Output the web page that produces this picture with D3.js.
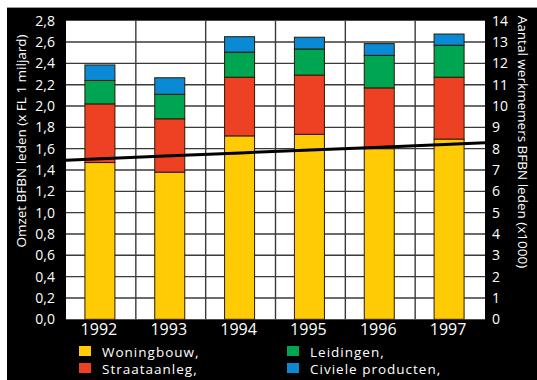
<!DOCTYPE html>
<html><head><meta charset="utf-8">
<script src="https://cdn.jsdelivr.net/npm/d3@7"></script>
<style>body{margin:0;background:#fff}svg{display:block}</style>
</head><body><svg id="c" width="537" height="380"></svg>
<script>
const years = ["1992", "1993", "1994", "1995", "1996", "1997"];
const woningbouw = [1.47, 1.38, 1.72, 1.735, 1.60, 1.69];
const straataanleg = [0.55, 0.50, 0.55, 0.555, 0.57, 0.58];
const leidingen = [0.22, 0.23, 0.235, 0.245, 0.305, 0.30];
const civiele = [0.145, 0.155, 0.145, 0.11, 0.11, 0.105];
const werknemers = [7.53, 7.67, 7.80, 7.94, 8.07, 8.21];
const leftTicks = [0, 0.2, 0.4, 0.6, 0.8, 1.0, 1.2, 1.4, 1.6, 1.8, 2.0, 2.2, 2.4, 2.6, 2.8];
const rightTicks = [0, 1, 2, 3, 4, 5, 6, 7, 8, 9, 10, 11, 12, 13, 14];
const seriesNames = ["Woningbouw,", "Straataanleg,", "Leidingen,", "Civiele producten,"];
const seriesColors = ["#FFCB05", "#EE4124", "#00A551", "#0A8AD5"];
const leftTitle = "Omzet BFBN leden (x FL 1 miljard)";
const rightTitle = "Aantal werkmemers BFBN leden (x1000)";

const FONT = "'Open Sans', 'Noto Sans', sans-serif";
const svg = d3.select("#c");
const L = 66, R = 485, T = 20.7, B = 319.3;

svg.append("rect").attr("x", 7).attr("y", 8).attr("width", 530).attr("height", 372).attr("fill", "#000");
svg.append("line").attr("x1", 7).attr("x2", 537).attr("y1", 7.5).attr("y2", 7.5).attr("stroke", "#999").attr("stroke-width", 1);
svg.append("rect").attr("x", L).attr("y", T).attr("width", R - L).attr("height", B - T).attr("fill", "#fff");

const x = d3.scaleBand().domain(years).range([L, R]).padding(0);
const y = d3.scaleLinear().domain([0, 2.8]).range([B, T]);
const y2 = d3.scaleLinear().domain([0, 14]).range([B, T]);

// grid
const gGrid = svg.append("g");
gGrid.selectAll("line.h").data(leftTicks.slice(1, -1)).join("line")
  .attr("x1", L).attr("x2", R).attr("y1", d => y(d)).attr("y2", d => y(d))
  .attr("stroke", "#3a3a3a").attr("stroke-width", 1.4);
gGrid.selectAll("line.v").data(years.slice(1)).join("line")
  .attr("x1", d => x(d)).attr("x2", d => x(d)).attr("y1", T).attr("y2", B)
  .attr("stroke", "#3a3a3a").attr("stroke-width", 1.4);

// stacked bars
const rows = years.map((yr, i) => ({year: yr, s0: woningbouw[i], s1: straataanleg[i], s2: leidingen[i], s3: civiele[i]}));
const stack = d3.stack().keys(["s0", "s1", "s2", "s3"])(rows);
const bw = 30;
svg.append("g").selectAll("g").data(stack).join("g")
  .attr("fill", (d, i) => seriesColors[i])
  .selectAll("rect").data(d => d).join("rect")
  .attr("x", d => x(d.data.year) + x.bandwidth() / 2 - bw / 2 - 1)
  .attr("width", bw)
  .attr("y", d => y(d[1]))
  .attr("height", d => y(d[0]) - y(d[1]))
  .attr("stroke", "#2a1a00").attr("stroke-width", 1);

// employee line, extended to the plot edges
const pts = years.map((yr, i) => [x(yr) + x.bandwidth() / 2, y2(werknemers[i])]);
const n = pts.length;
const s0 = (pts[1][1] - pts[0][1]) / (pts[1][0] - pts[0][0]);
const s1 = (pts[n - 1][1] - pts[n - 2][1]) / (pts[n - 1][0] - pts[n - 2][0]);
const full = [[L, pts[0][1] + s0 * (L - pts[0][0])], ...pts, [R, pts[n - 1][1] + s1 * (R - pts[n - 1][0])]];
svg.append("path").attr("d", d3.line()(full)).attr("fill", "none").attr("stroke", "#000").attr("stroke-width", 3);

// axes
const fmt = d => d3.format(".1f")(d).replace(".", ",");
const ax = svg.append("g").attr("transform", `translate(${L},0)`)
  .call(d3.axisLeft(y).tickValues(leftTicks).tickSize(0).tickPadding(11).tickFormat(fmt));
const ax2 = svg.append("g").attr("transform", `translate(${R},0)`)
  .call(d3.axisRight(y2).tickValues(rightTicks).tickSize(0).tickPadding(7).tickFormat(d3.format("d")));
const axX = svg.append("g").attr("transform", `translate(-2,${B})`)
  .call(d3.axisBottom(x).tickSize(0).tickPadding(4));
[ax, ax2, axX].forEach(g => {
  g.select(".domain").remove();
  g.selectAll("text").attr("fill", "#fff").attr("font-family", FONT);
});
ax.selectAll("text").attr("font-size", 14);
ax2.selectAll("text").attr("font-size", 14);
axX.selectAll("text").attr("font-size", 16);

// axis titles
svg.append("text").attr("transform", "translate(26,141) rotate(-90)")
  .attr("text-anchor", "middle").attr("fill", "#fff").attr("font-family", FONT).attr("font-size", 13.5)
  .text(leftTitle);
svg.append("text").attr("transform", "translate(518,142) rotate(90)")
  .attr("text-anchor", "middle").attr("fill", "#fff").attr("font-family", FONT).attr("font-size", 13.5)
  .text(rightTitle);

// legend
const legPos = [[79, 346], [79, 363], [287, 346], [287, 363]];
const leg = svg.append("g").selectAll("g").data(seriesNames).join("g")
  .attr("transform", (d, i) => `translate(${legPos[i][0]},${legPos[i][1]})`);
leg.append("rect").attr("width", 12).attr("height", 10).attr("fill", (d, i) => seriesColors[i]);
leg.append("text").attr("x", 23).attr("y", 10.5).attr("fill", "#fff").attr("font-family", FONT)
  .attr("font-size", 13.5).attr("letter-spacing", 1).text(d => d);
</script>
</body></html>
